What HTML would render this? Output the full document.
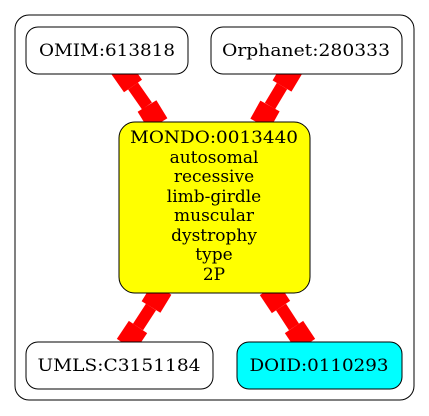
<html><body style="margin:0;background:#fff">
<svg width="429" height="416" xmlns="http://www.w3.org/2000/svg" font-family="DejaVu Serif, serif" font-size="17">
<rect x="15" y="15" width="399" height="385" rx="14" fill="#fff" stroke="#000"/>
<g stroke="red" fill="none">
<path d="M119,66 L133,86" stroke-width="22"/><path d="M133,86 L147,106" stroke-width="12"/><path d="M147,106 L158,124" stroke-width="22"/>
<path d="M294,66 L282,86" stroke-width="22"/><path d="M282,86 L270,106" stroke-width="12"/><path d="M270,106 L260,124" stroke-width="22"/>
<path d="M162,289 L151,307" stroke-width="22"/><path d="M151,307 L138,327" stroke-width="12"/><path d="M138,327 L126,345" stroke-width="22"/>
<path d="M269,289 L281,307" stroke-width="22"/><path d="M281,307 L294,327" stroke-width="12"/><path d="M294,327 L306,345" stroke-width="22"/>
</g>
<rect x="26" y="27" width="162" height="47" rx="12" fill="#fff" stroke="#000"/>
<text x="107" y="56" text-anchor="middle" textLength="136" lengthAdjust="spacingAndGlyphs">OMIM:613818</text>
<rect x="211" y="27" width="191" height="47" rx="12" fill="#fff" stroke="#000"/>
<text x="306" y="56" text-anchor="middle" textLength="168" lengthAdjust="spacingAndGlyphs">Orphanet:280333</text>
<rect x="119" y="122" width="191" height="171" rx="16" fill="#ff0" stroke="#000"/>
<g text-anchor="middle"><text x="214" y="143" textLength="168" lengthAdjust="spacingAndGlyphs">MONDO:0013440</text><text x="214" y="163">autosomal</text><text x="214" y="182">recessive</text><text x="214" y="202">limb-girdle</text><text x="214" y="221">muscular</text><text x="214" y="241">dystrophy</text><text x="214" y="260">type</text><text x="214" y="280">2P</text></g>
<rect x="26" y="342" width="187" height="47" rx="12" fill="#fff" stroke="#000"/>
<text x="119" y="371" text-anchor="middle" textLength="163" lengthAdjust="spacingAndGlyphs">UMLS:C3151184</text>
<rect x="237" y="342" width="165" height="47" rx="12" fill="#0ff" stroke="#000"/>
<text x="319" y="371" text-anchor="middle" textLength="139" lengthAdjust="spacingAndGlyphs">DOID:0110293</text>
</svg>
</body></html>
